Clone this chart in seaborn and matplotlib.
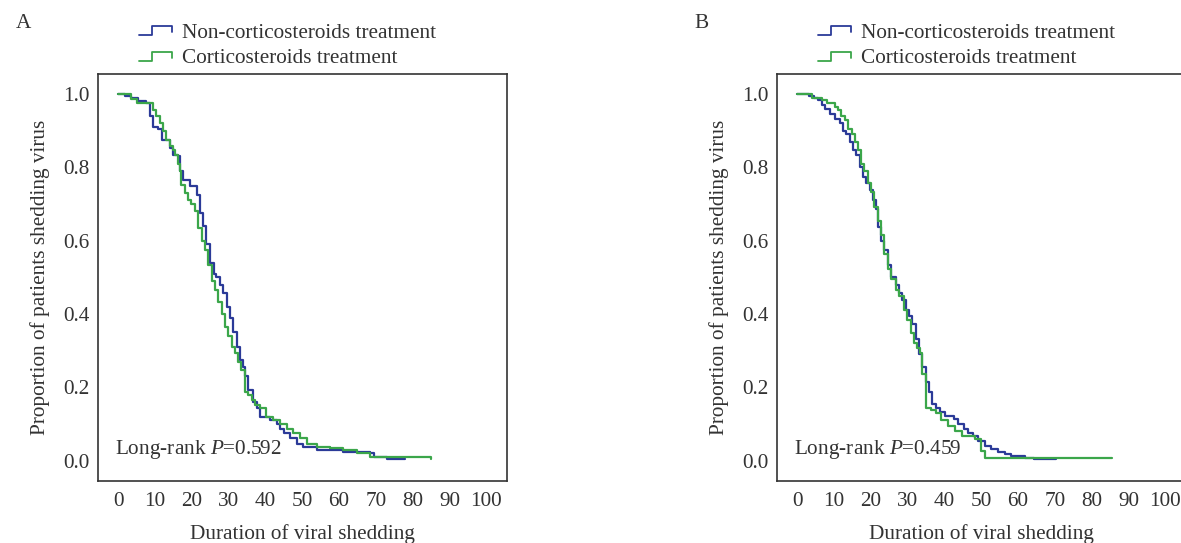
import numpy as np
import pandas as pd
import matplotlib
matplotlib.use("Agg")
import matplotlib.pyplot as plt
import seaborn as sns
from matplotlib.lines import Line2D
from matplotlib.legend_handler import HandlerBase

# Kaplan-Meier step data (time in days, proportion still shedding)
a_non_t = [0, 1.8, 3.5, 5.5, 7.5, 8.6, 9.5, 10.8, 11.8, 14.0, 15.0, 16.3, 16.8, 17.7, 19.5, 21.3, 22.2, 23.0, 24.0, 25.0,
           26.0, 26.7, 27.6, 28.6, 29.5, 30.4, 31.3, 32.2, 33.0, 33.9, 34.5, 35.4, 36.7, 37.6, 38.5, 41.3, 43.1, 44.0,
           45.0, 46.7, 48.5, 50.3, 54.0, 61.0, 68.5, 69.4, 73.0, 78.0]
a_non_s = [1.0, 0.995, 0.99, 0.98, 0.975, 0.94, 0.91, 0.905, 0.875, 0.853, 0.834, 0.83, 0.79, 0.766, 0.75, 0.725, 0.675,
           0.64, 0.59, 0.54, 0.51, 0.50, 0.48, 0.457, 0.42, 0.39, 0.35, 0.31, 0.275, 0.256, 0.23, 0.193, 0.16, 0.143,
           0.12, 0.11, 0.10, 0.088, 0.075, 0.061, 0.047, 0.038, 0.030, 0.025, 0.020, 0.011, 0.006, 0.006]

a_cor_t = [0, 3.6, 5.0, 6.8, 9.5, 10.4, 11.3, 12.2, 13.1, 14.0, 14.9, 15.4, 16.3, 16.8, 17.2, 18.1, 19.0, 19.9, 20.8,
           21.8, 22.7, 23.6, 24.5, 25.4, 26.3, 27.2, 28.1, 29.0, 29.9, 30.8, 31.7, 32.6, 33.5, 34.4, 35.4, 36.3, 37.2,
           38.5, 40.3, 42.2, 44.0, 45.8, 47.6, 49.4, 51.2, 54.0, 57.6, 61.0, 65.0, 68.5, 85.0]
a_cor_s = [1.0, 0.985, 0.975, 0.975, 0.957, 0.94, 0.92, 0.90, 0.875, 0.857, 0.848, 0.834, 0.81, 0.79, 0.752, 0.73, 0.71,
           0.70, 0.68, 0.634, 0.60, 0.575, 0.534, 0.49, 0.466, 0.434, 0.40, 0.366, 0.34, 0.31, 0.293, 0.27, 0.247,
           0.188, 0.18, 0.166, 0.152, 0.143, 0.12, 0.11, 0.10, 0.088, 0.075, 0.061, 0.047, 0.038, 0.034, 0.030, 0.020,
           0.011, 0.006]

b_non_t = [0, 3.1, 4.5, 5.8, 6.7, 7.6, 8.9, 10.3, 11.6, 12.5, 13.4, 14.3, 15.2, 16.1, 17.0, 17.9, 18.8, 19.7, 20.6,
           21.5, 21.9, 22.8, 23.7, 24.6, 25.5, 26.8, 27.7, 28.6, 29.5, 30.4, 31.3, 32.2, 33.1, 34.0, 34.9, 35.8, 36.7,
           37.6, 38.9, 40.2, 42.5, 43.8, 45.2, 46.5, 47.9, 49.2, 51.0, 52.8, 54.6, 56.4, 58.0, 62.0, 64.4, 70.2]
b_non_s = [1.0, 0.995, 0.99, 0.983, 0.97, 0.96, 0.946, 0.933, 0.92, 0.90, 0.89, 0.87, 0.848, 0.834, 0.80, 0.773, 0.756,
           0.737, 0.71, 0.687, 0.637, 0.60, 0.575, 0.534, 0.50, 0.478, 0.457, 0.437, 0.41, 0.396, 0.373, 0.332, 0.29,
           0.255, 0.214, 0.188, 0.156, 0.143, 0.132, 0.123, 0.114, 0.10, 0.088, 0.077, 0.068, 0.055, 0.041, 0.032,
           0.023, 0.018, 0.014, 0.009, 0.005, 0.005]

b_cor_t = [0, 4.0, 6.7, 8.1, 10.3, 11.2, 12.0, 13.0, 13.9, 14.8, 15.7, 16.6, 17.4, 18.3, 19.2, 20.1, 21.0, 21.9, 22.8,
           23.7, 24.6, 25.5, 26.8, 27.7, 29.0, 29.9, 30.9, 31.7, 32.6, 33.5, 34.0, 34.9, 36.3, 37.6, 39.0, 41.1, 42.9,
           44.7, 48.3, 50.0, 51.0, 85.4]
b_cor_s = [1.0, 0.99, 0.983, 0.975, 0.965, 0.955, 0.94, 0.93, 0.905, 0.89, 0.87, 0.848, 0.81, 0.79, 0.757, 0.734, 0.693,
           0.655, 0.616, 0.564, 0.523, 0.496, 0.466, 0.448, 0.41, 0.384, 0.348, 0.32, 0.307, 0.293, 0.238, 0.143,
           0.138, 0.13, 0.11, 0.095, 0.082, 0.068, 0.06, 0.027, 0.008, 0.008]

groups = ["Non-corticosteroids treatment", "Corticosteroids treatment"]
colors = ["#2b3a98", "#3ba64a"]
panels = ["A", "B"]
pvalues = ["0.592", "0.459"]
x_ticks = list(range(0, 101, 10))
y_ticks = [0.0, 0.2, 0.4, 0.6, 0.8, 1.0]

sns.set_style("white")
plt.rcParams["font.family"] = ["Liberation Serif", "DejaVu Serif"]
plt.rcParams["mathtext.fontset"] = "custom"
plt.rcParams["mathtext.rm"] = "Liberation Serif"
plt.rcParams["mathtext.it"] = "Liberation Serif:italic"

txt = "#333333"
fs = 15.3


class StepHandler(HandlerBase):
    def create_artists(self, legend, orig_handle, xdescent, ydescent, width, height, fontsize, trans):
        xs = np.array([0, 0.38, 0.38, 1, 1]) * width - xdescent
        ys = np.array([0.2, 0.2, 0.8, 0.8, 0.4]) * height - ydescent
        ln = Line2D(xs, ys, color=orig_handle.get_color(), lw=1.3, transform=trans)
        return [ln]


fig = plt.figure(figsize=(11.81, 5.43), dpi=100)
W, H = 1181, 543
ax_w = 409 / W
ax_b = (543 - 481) / H
ax_h = (481 - 74.5) / H
lefts = [97.5 / W, 776.5 / W]

curves = [
    [(a_non_t, a_non_s), (a_cor_t, a_cor_s)],
    [(b_non_t, b_non_s), (b_cor_t, b_cor_s)],
]

for i in range(2):
    ax = fig.add_axes([lefts[i], ax_b, ax_w, ax_h])
    for g in range(2):
        t, s = curves[i][g]
        df = pd.DataFrame({"t": t, "s": s})
        sns.lineplot(data=df, x="t", y="s", ax=ax, color=colors[g], lw=1.6,
                     drawstyle="steps-post", estimator=None, sort=False)
    ax.set_xlim(-5.6, 105.5)
    ax.set_ylim(-0.055, 1.053)
    ax.set_xticks(x_ticks)
    ax.set_yticks(y_ticks)
    ax.set_yticklabels([f"{v:.1f}" for v in y_ticks])
    ax.tick_params(direction="in", length=5.8, width=1, colors=txt, labelsize=fs)
    ax.tick_params(axis="y", pad=6)
    ax.tick_params(axis="x", pad=8)
    for sp in ax.spines.values():
        sp.set_color(txt)
        sp.set_linewidth(1.2)
    ax.set_xlabel("Duration of viral shedding", fontsize=fs, color=txt, labelpad=9)
    ax.set_ylabel("Proportion of patients shedding virus", fontsize=fs, color=txt, labelpad=9)
    ax.text(-0.9, 0.03, f"Long-rank $P$=" + pvalues[i], fontsize=fs, color=txt, va="center", ha="left")

    handles = [Line2D([], [], color=c) for c in colors]
    leg_x = (lefts[i] * W + 41.5) / W
    ax.legend(handles, groups, handler_map={Line2D: StepHandler()}, loc="upper left",
              bbox_to_anchor=(leg_x, 1 - 23 / H), bbox_transform=fig.transFigure,
              frameon=False, fontsize=fs, handlelength=1.55, handletextpad=0.47,
              labelspacing=0.27, borderaxespad=0, borderpad=0, labelcolor=txt)
    fig.text((lefts[i] * W - 82) / W, 1 - 23 / H, panels[i], fontsize=fs, color=txt, va="center", ha="left")

fig.savefig("out.png", dpi=100)
